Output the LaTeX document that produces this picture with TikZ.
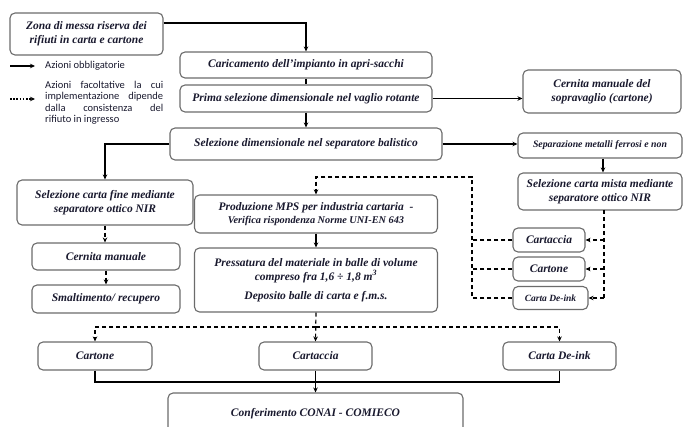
\documentclass[tikz,border=0pt]{standalone}
\usepackage{fontspec}
\setmainfont{Liberation Serif}
\newfontfamily\legf{Carlito}
\usetikzlibrary{arrows.meta}
\definecolor{txt}{rgb}{0.1,0.1,0.18}
\definecolor{bord}{rgb}{0.42,0.42,0.42}
\begin{document}
\begin{tikzpicture}[x=1pt,y=-1pt,
 box/.style={draw=bord, line width=1.1pt, rounded corners=5pt, fill=white, inner sep=0pt, align=center, text=txt, font=\bfseries\itshape\fontsize{11.5}{14}\selectfont},
 arr/.style={-{Stealth[length=5pt,width=4.5pt]}},
 ln/.style={line width=1.1pt, draw=black},
 dsh/.style={line width=1.2pt, draw=black, dash pattern=on 4pt off 3pt},
 dtt/.style={line width=1.2pt, draw=black, dash pattern=on 1.6pt off 1.6pt},
 legtxt/.style={inner sep=0pt, text=txt, font=\legf\fontsize{10.5}{11.4}\selectfont}
 ]
\useasboundingbox (0,0) rectangle (684,427);
\clip (0,0) rectangle (684,427);

% boxes
\node[box, minimum width=153pt, minimum height=42pt] (zona) at (86.5,34) {Zona di messa riserva dei\\rifiuti in carta e cartone};
\node[box, minimum width=252pt, minimum height=26pt] (car) at (306,65) {Caricamento dell'impianto in apri-sacchi};
\node[box, minimum width=252pt, minimum height=27pt] (prima) at (306,98.5) {Prima selezione dimensionale nel vaglio rotante};
\node[box, minimum width=272pt, minimum height=32pt] (bal) at (306,144) {Selezione dimensionale nel separatore balistico};
\node[box, minimum width=158pt, minimum height=43pt] (sopra) at (602,91.5) {Cernita manuale del\\sopravaglio (cartone)};
\node[box, minimum width=164pt, minimum height=25pt, font=\bfseries\itshape\fontsize{9.8}{12}\selectfont] (sep) at (600,145.5) {Separazione metalli ferrosi e non};
\node[box, minimum width=164pt, minimum height=37pt] (mista) at (600,191.5) {Selezione carta mista mediante\\separatore ottico NIR};
\node[box, minimum width=176pt, minimum height=45pt] (fine) at (105,202.5) {Selezione carta fine mediante\\separatore ottico NIR};
\node[box, minimum width=148pt, minimum height=27pt] (cern) at (106,256.5) {Cernita manuale};
\node[box, minimum width=148pt, minimum height=28pt] (smal) at (106,299) {Smaltimento/ recupero};
\node[box, minimum width=243pt, minimum height=38pt] (prod) at (316,214) {Produzione MPS per industria cartaria \ -\\[-1pt]{\fontsize{10.3}{12}\selectfont Verifica rispondenza Norme UNI-EN 643}};
\node[box, minimum width=243pt, minimum height=64pt] (press) at (316,280) {Pressatura del materiale in balle di volume\\compreso fra 1,6 ÷ 1,8 m\textsuperscript{3}\\[5pt]Deposito balle di carta e f.m.s.};
\node[box, minimum width=72pt, minimum height=24pt] (rcaccia) at (549,240) {Cartaccia};
\node[box, minimum width=72pt, minimum height=24pt] (rcarton) at (549,269) {Cartone};
\node[box, minimum width=75pt, minimum height=23pt, font=\bfseries\itshape\fontsize{9.5}{11}\selectfont] (rdeink) at (550.5,298) {Carta De-ink};
\node[box, minimum width=114pt, minimum height=28pt] (bcarton) at (95,356) {Cartone};
\node[box, minimum width=113pt, minimum height=28pt] (bcaccia) at (315.5,356) {Cartaccia};
\node[box, minimum width=113pt, minimum height=28pt] (bdeink) at (559.5,356) {Carta De-ink};
\node[box, minimum width=295pt, minimum height=42pt] (conf) at (315.5,414) {Conferimento CONAI - COMIECO};

% legend
\node[legtxt, anchor=west] (leg1) at (45,66) {Azioni obbligatorie};
\coordinate (la1) at (10,66);
\draw[ln,arr] (la1) -- ([xshift=-10pt]leg1.west);
\node[legtxt, anchor=north west, text width=118pt, align=justify] (leg2) at (45,81) {Azioni facoltative la cui\linebreak implementazione dipende\linebreak dalla consistenza del\linebreak rifiuto in ingresso};
\coordinate (la2) at (10,99);
\coordinate (la2e) at (35,99);
\draw[dtt,arr] (la2) -- (la2e);

% solid connectors
\draw[ln,arr] ([yshift=11pt]zona.east) -| (car.north);
\draw[ln] (car.south) -- (prima.north);
\draw[ln,arr] (prima.south) -- (bal.north);
\draw[ln,arr] (prima.east) -- (prima.east -| sopra.west);
\draw[ln,arr] (bal.east) -- (bal.east -| sep.west);
\draw[ln,arr] (bal.west) -| (fine.north);
\draw[ln,arr] ([xshift=3pt]sep.south) -- ([xshift=3pt]mista.north);
\draw[ln,arr] (prod.south) -- (press.north);

% left column dashed small arrows
\draw[dsh,arr] (fine.south) -- (fine.south |- cern.north);
\draw[dsh,arr] (cern.south) -- (smal.north);

% right dashed distribution
\coordinate (mr) at (604,210);
\draw[dsh] (mr) -- (mr |- rdeink.east);
\draw[dsh,arr] (mr |- rcaccia.east) -- (rcaccia.east);
\draw[dsh,arr] (mr |- rcarton.east) -- (rcarton.east);
\draw[dsh,arr] (mr |- rdeink.east) -- (rdeink.east);

% return to production
\coordinate (dc) at (472,177);
\draw[dsh,arr] (rdeink.west) -| (dc) -| (prod.north);
\draw[dsh] (rcaccia.west) -- (rcaccia.west -| dc);
\draw[dsh] (rcarton.west) -- (rcarton.west -| dc);

% bottom dashed distribution
\coordinate (bj) at (316,327);
\draw[dsh,arr] (press.south) -- (bcaccia.north);
\draw[dsh,arr] (bj) -| (bcarton.north);
\draw[dsh,arr] (bj) -| (bdeink.north);

% bottom solid collection
\coordinate (bl) at (95,382);
\draw[ln] (bcarton.south) -- (bl) -| (bdeink.south);
\draw[ln,arr] (bcaccia.south) -- (conf.north);
\end{tikzpicture}
\end{document}
